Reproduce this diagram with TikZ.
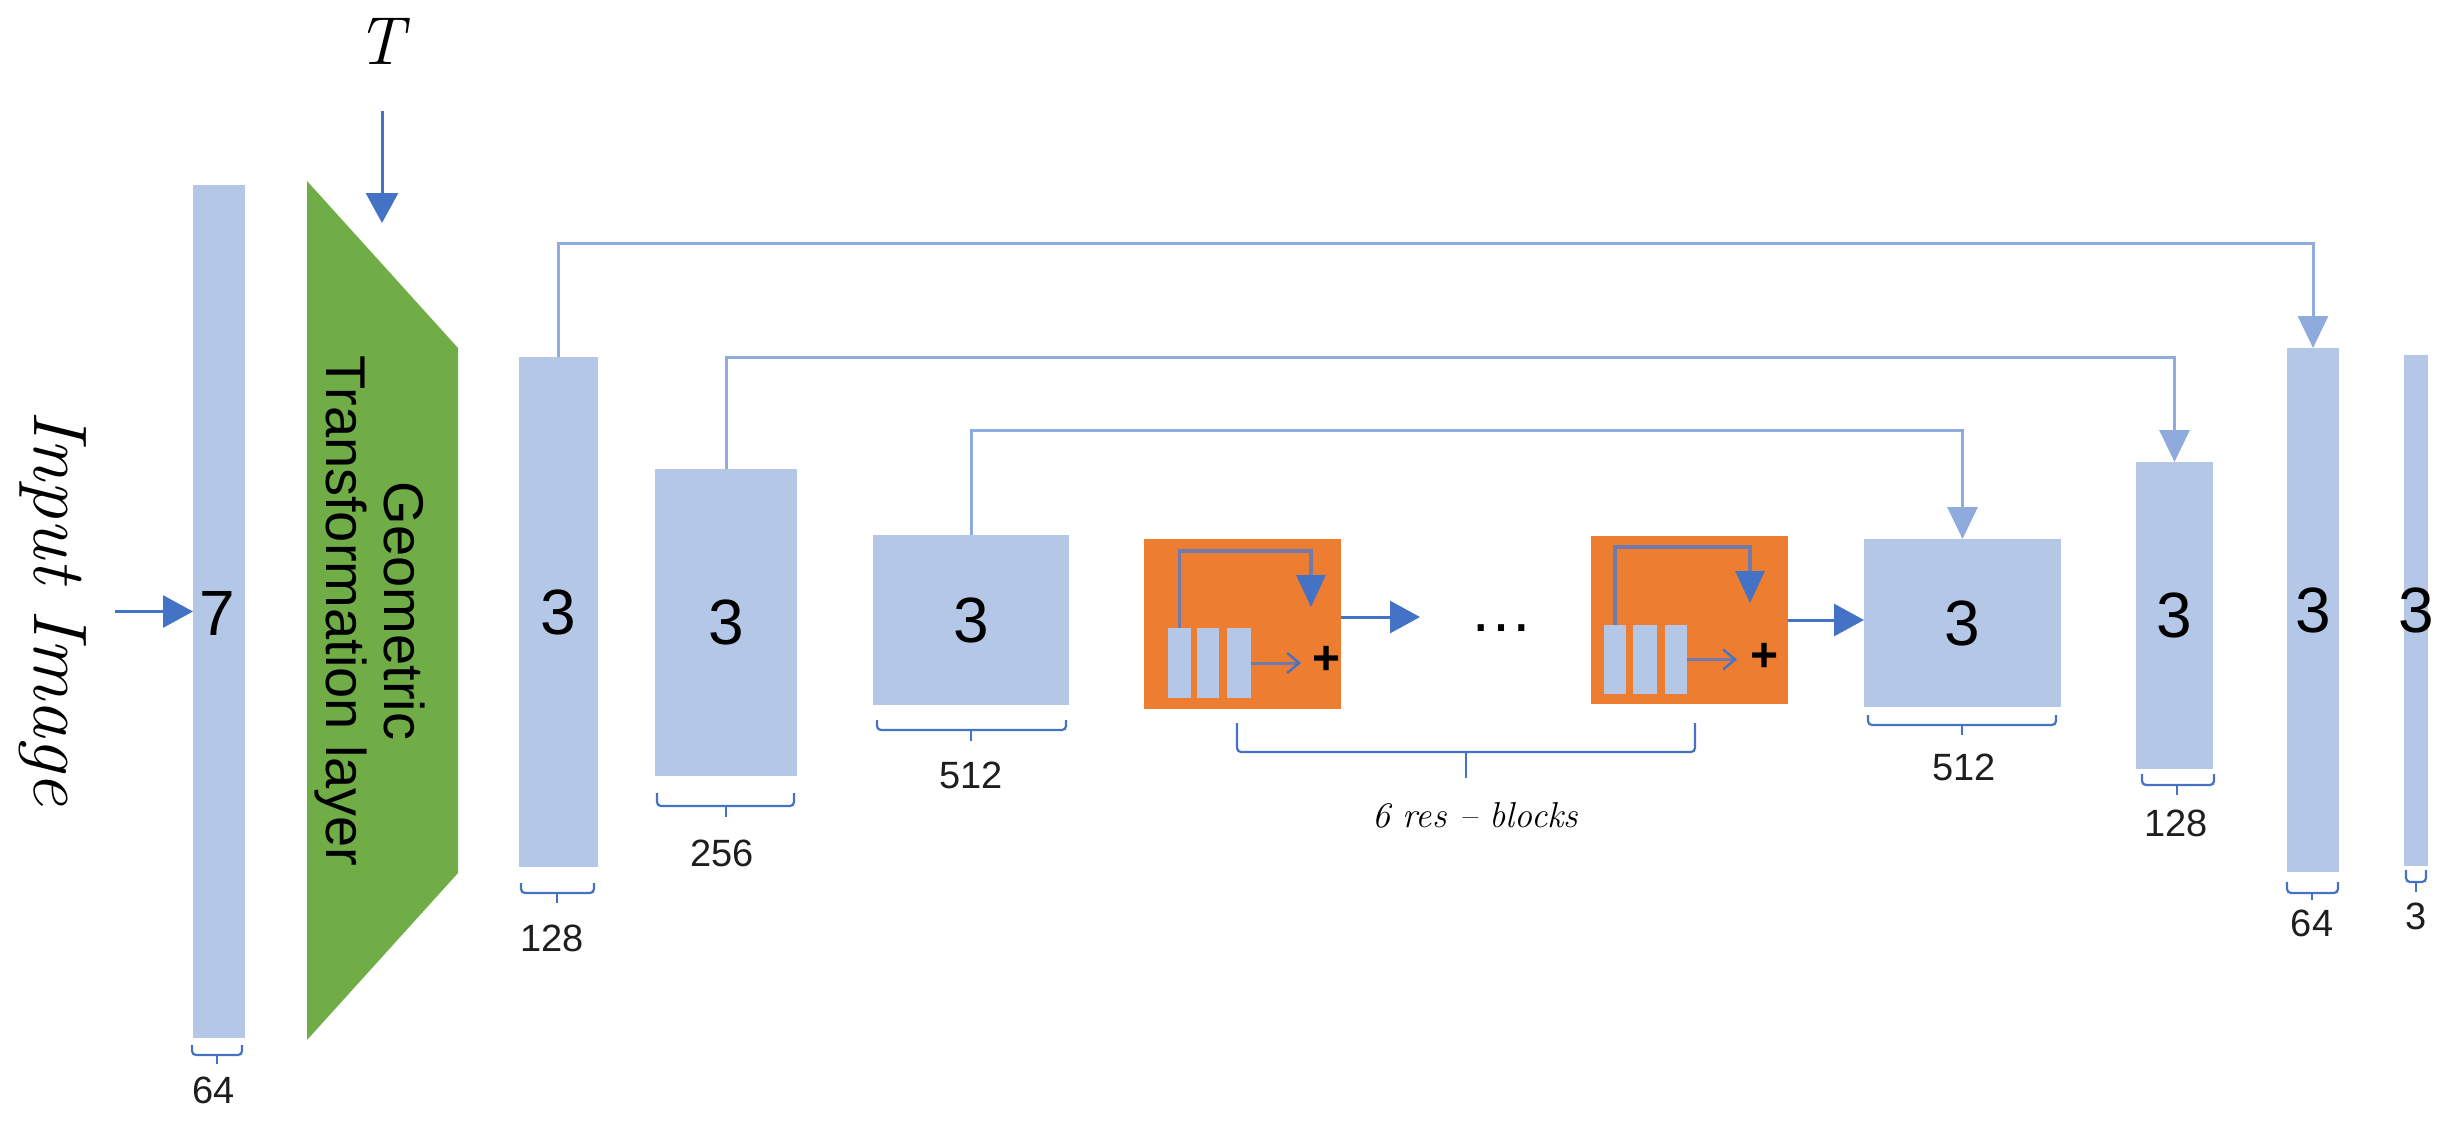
\documentclass[tikz,border=0pt]{standalone}
\usepackage{fontspec}
\newfontfamily\sansf{Liberation Sans}
\usetikzlibrary{arrows.meta}
\definecolor{barblue}{RGB}{180,199,231}
\definecolor{skipblue}{RGB}{143,170,220}
\definecolor{dblue}{RGB}{68,114,196}
\definecolor{orng}{RGB}{237,125,49}
\definecolor{grn}{RGB}{112,173,71}
\definecolor{inl}{RGB}{112,122,172}
\definecolor{txt}{RGB}{30,30,30}
\newcommand{\bkt}[6]{\draw[brk] (#1,#3) -- (#1,#4) -- (#2,#4) -- (#2,#3); \draw[brk] (#6,#4) -- (#6,#5);}
\begin{document}
\begin{tikzpicture}[x=0.5pt,y=-0.5pt,
  bar/.style={fill=barblue, draw=none, inner sep=0pt, outer sep=0pt},
  rblock/.style={fill=orng, draw=none, inner sep=0pt, outer sep=0pt},
  big/.style={font=\sansf\fontsize{32}{36}\selectfont, text=black, inner sep=0pt},
  lab/.style={font=\sansf\fontsize{19}{22}\selectfont, text=txt, inner sep=0pt},
  skip/.style={draw=skipblue, line width=1.5pt, -{Triangle[length=16pt,width=15pt]}},
  darr/.style={draw=dblue, line width=1.5pt, -{Triangle[length=15pt,width=16pt]}},
  brk/.style={draw=dblue, line width=1.1pt, rounded corners=2pt},
  inner/.style={draw=inl, line width=1.6pt, -{Triangle[length=16pt,width=14.5pt,color=dblue]}},
  small/.style={draw=inl, line width=1.5pt, -{Straight Barb[length=6pt,width=10pt,color=dblue,line width=1.2pt]}}
]
\useasboundingbox (0,0) rectangle (2446,1125);

% input side
\node[font=\itshape\fontsize{38}{42}\selectfont, rotate=-90, inner sep=0pt] (inimg) at (53,608) {Input Image};
\node[bar, minimum width=26pt, minimum height=426.5pt] (in64) at (219,611.5) {};
\node[big] (d7) at (217,613) {7};
\coordinate (inA) at (115,611.5);
\draw[darr] (inA) -- (in64.west);

% T and geometric layer
\node[font=\itshape\fontsize{34}{38}\selectfont, inner sep=0pt] (T) at (380,41) {T};
\coordinate (tA) at (382,111);
\coordinate (tB) at (382,223);
\draw[darr] (tA) -- (tB);
\fill[grn] (307,181) coordinate (g1) -- (458,348) coordinate (g2) -- (458,873) coordinate (g3) -- (307,1040) coordinate (g4) -- cycle;
\node[font=\sansf\fontsize{28}{29}\selectfont, align=center, rotate=-90, inner sep=0pt] (gtl) at (370,611) {Geometric\\Transformation layer};

% encoder bars
\node[bar, minimum width=39.5pt, minimum height=255pt] (b128L) at (558.5,612) {};
\node[bar, minimum width=71pt, minimum height=153.5pt] (b256) at (726,622.5) {};
\node[bar, minimum width=98pt, minimum height=85pt] (b512L) at (971,620) {};
\node[big] at (b128L.center) {3};
\node[big] at (b256.center) {3};
\node[big] at (b512L.center) {3};

% res blocks
\node[rblock, minimum width=98.5pt, minimum height=85pt] (o1) at (1242.5,624) {};
\node[rblock, minimum width=98.5pt, minimum height=84pt] (o2) at (1689.5,620) {};
\node[bar, minimum width=11.5pt, minimum height=35pt] (r1a) at (1179.5,663) {};
\node[bar, minimum width=11pt, minimum height=35pt] (r1b) at (1208,663) {};
\node[bar, minimum width=12pt, minimum height=35pt] (r1c) at (1239,663) {};
\node[bar, minimum width=11pt, minimum height=34.5pt] (r2a) at (1615,659.5) {};
\node[bar, minimum width=12pt, minimum height=34.5pt] (r2b) at (1645,659.5) {};
\node[bar, minimum width=11pt, minimum height=34.5pt] (r2c) at (1676,659.5) {};
\coordinate (h1) at (1311,607);
\coordinate (h2) at (1750,603);
\draw[inner] (r1a.north) -- ++(0,-77) -| (h1);
\draw[inner] (r2a.north) -- ++(0,-78) -| (h2);
\node[font=\sansf\bfseries\fontsize{24}{26}\selectfont, inner sep=0pt] (p1) at (1326,660) {+};
\node[font=\sansf\bfseries\fontsize{24}{26}\selectfont, inner sep=0pt] (p2) at (1764,657) {+};
\coordinate (s1) at (1301,663);
\coordinate (s2) at (1737,659.5);
\draw[small] (r1c.east) -- (s1);
\draw[small] (r2c.east) -- (s2);
\coordinate (dA) at (1420,617);
\draw[darr] (o1.east |- dA) -- (dA);
\node[font=\sansf\fontsize{32}{36}\selectfont, inner sep=0pt] (dots) at (1501,628) {…};

% decoder bars
\node[bar, minimum width=98.5pt, minimum height=84pt] (b512R) at (1962.5,623) {};
\node[bar, minimum width=38.5pt, minimum height=153.5pt] (b128R) at (2174.5,615.5) {};
\node[bar, minimum width=26pt, minimum height=262pt] (b64R) at (2313,610) {};
\node[bar, minimum width=12pt, minimum height=255.5pt] (b3) at (2416,610.5) {};
\node[big] at (b512R.center) {3};
\node[big] at (b128R.center) {3};
\node[big] at (b64R.center) {3};
\node[big] at (b3.center) {3};
\draw[darr] (o2.east) -- (o2.east -| b512R.west);

% skip connections
\draw[skip] (b128L.north) -- ++(0,-114) -| (b64R.north);
\draw[skip] (b256.north) -- ++(0,-112) -| (b128R.north);
\draw[skip] (b512L.north) -- ++(0,-105) -| (b512R.north);

% brackets and labels
\bkt{192}{242}{1045}{1055}{1064}{217}
\node[lab] (l64a) at (214,1090) {64};
\bkt{521}{594}{883}{893}{903}{557}
\node[lab] (l128a) at (552,938) {128};
\bkt{657}{794}{793}{806}{817}{726}
\node[lab] (l256) at (722,853) {256};
\bkt{877}{1066}{720}{730}{741}{971}
\node[lab] (l512a) at (971,775) {512};
\bkt{1237}{1695}{723}{752}{778}{1466}
\node[font=\itshape\fontsize{18}{20}\selectfont, inner sep=0pt] (lres) at (1475,815) {6 res – blocks};
\bkt{1868}{2056}{715}{725}{735}{1962}
\node[lab] (l512b) at (1964,767) {512};
\bkt{2142}{2214}{774}{785}{795}{2177}
\node[lab] (l128b) at (2176,823) {128};
\bkt{2287}{2338}{882}{893}{900}{2312}
\node[lab] (l64b) at (2312,923) {64};
\bkt{2406}{2426}{870}{882}{892}{2416}
\node[lab] (l3) at (2416,916) {3};
\end{tikzpicture}
\end{document}
